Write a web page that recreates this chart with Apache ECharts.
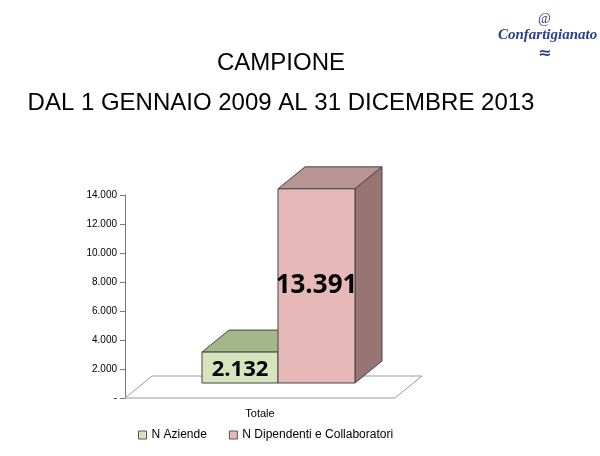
<!DOCTYPE html>
<html><head><meta charset="utf-8">
<script src="https://cdn.jsdelivr.net/npm/echarts@6/dist/echarts.min.js"></script>
<style>html,body{margin:0;padding:0;background:#fff}#c{width:600px;height:456px}</style>
</head><body><div id="c"></div>
<script>
const categories = ['Totale'];
const seriesNames = ['N Aziende', 'N Dipendenti e Collaboratori'];
const aziende = [2132];
const dipendenti = [13391];
const yTicks = [0, 2000, 4000, 6000, 8000, 10000, 12000, 14000];

const fmt = v => v === 0 ? '-' : String(v).replace(/\B(?=(\d{3})+(?!\d))/g, '.');
const DX = 27, DY = -22, LIFT = -15;

function box(api, value, x0, x1, front, side, top, fs) {
  const base = api.coord([0, 0]);
  const p = api.coord([0, value]);
  const cx = base[0];
  const yb = base[1] + LIFT, yt = p[1] + LIFT;
  const l = cx + x0, r = cx + x1;
  const st = {stroke: '#444', lineWidth: 1};
  return {type: 'group', children: [
    {type: 'polygon', shape: {points: [[l, yt], [r, yt], [r + DX, yt + DY], [l + DX, yt + DY]]}, style: Object.assign({fill: top}, st)},
    {type: 'polygon', shape: {points: [[r, yt], [r + DX, yt + DY], [r + DX, yb + DY], [r, yb]]}, style: Object.assign({fill: side}, st)},
    {type: 'rect', shape: {x: l, y: yt, width: r - l, height: yb - yt}, style: Object.assign({fill: front}, st)},
    {type: 'text', style: {text: fmt(value), x: (l + r) / 2, y: Math.max((yt + yb) / 2, yt + 18), align: 'center', verticalAlign: 'middle', font: 'bold ' + fs + 'px "Open Sans", Arial', fill: '#000'}}
  ]};
}

const chart = echarts.init(document.getElementById('c'));
chart.setOption({
  animation: false,
  title: {text: 'CAMPIONE\nDAL 1 GENNAIO 2009 AL 31 DICEMBRE 2013', left: 276, top: 38, textAlign: 'center',
    textStyle: {fontSize: 24, fontWeight: 'normal', color: '#000', lineHeight: 40, fontFamily: 'Liberation Sans'}},
  graphic: [
    {type: 'text', left: 498, top: 28, style: {text: 'Confartigianato', font: 'italic bold 15px "Liberation Serif"', fill: '#2a3f8f'}},
    {type: 'text', left: 538, top: 12, style: {text: '@', font: '14px "Liberation Serif"', fill: '#2a3f8f'}},
    {type: 'text', left: 538, top: 46, style: {text: '≈', font: 'bold 16px "DejaVu Sans"', fill: '#2a3f8f'}}
  ],
  legend: {bottom: 10, left: 133, itemWidth: 8, itemHeight: 8, itemGap: 22, icon: 'rect',
    textStyle: {fontSize: 12, color: '#000'}, data: [
      {name: seriesNames[0], itemStyle: {color: '#d7e4bd', borderColor: '#555', borderWidth: 1}},
      {name: seriesNames[1], itemStyle: {color: '#e6b9b8', borderColor: '#555', borderWidth: 1}}]},
  grid: {left: 125, right: 205, top: 195, bottom: 58},
  xAxis: {type: 'category', data: categories, axisLine: {show: false}, axisTick: {show: false},
    axisLabel: {fontSize: 11, color: '#000', margin: 10}},
  yAxis: {type: 'value', min: 0, max: 14000, interval: 2000,
    axisLine: {show: true, lineStyle: {color: '#777'}}, axisTick: {show: true, lineStyle: {color: '#777'}},
    splitLine: {show: false}, axisLabel: {formatter: fmt, fontSize: 10, color: '#000'}},
  series: [
    {type: 'custom', name: 'floor', silent: true, data: [0], z: 1,
      renderItem: (params, api) => {
        const cs = params.coordSys;
        const y = cs.y + cs.height, l = cs.x, r = cs.x + cs.width;
        return {type: 'polygon', shape: {points: [[l, y], [r, y], [r + DX, y + DY], [l + DX, y + DY]]},
          style: {fill: '#fff', stroke: '#999', lineWidth: 1}};
      }},
    {type: 'custom', name: seriesNames[0], data: aziende, z: 2, itemStyle: {color: '#d7e4bd'},
      renderItem: (p, api) => box(api, api.value(0), -58, 18, '#d7e4bd', '#7f8f63', '#a5b78a', 22), encode: {y: 0}},
    {type: 'custom', name: seriesNames[1], data: dipendenti, z: 3, itemStyle: {color: '#e6b9b8'},
      renderItem: (p, api) => box(api, api.value(0), 18, 95, '#e6b9b8', '#977575', '#b89493', 26), encode: {y: 0}}
  ]
});
</script></body></html>
